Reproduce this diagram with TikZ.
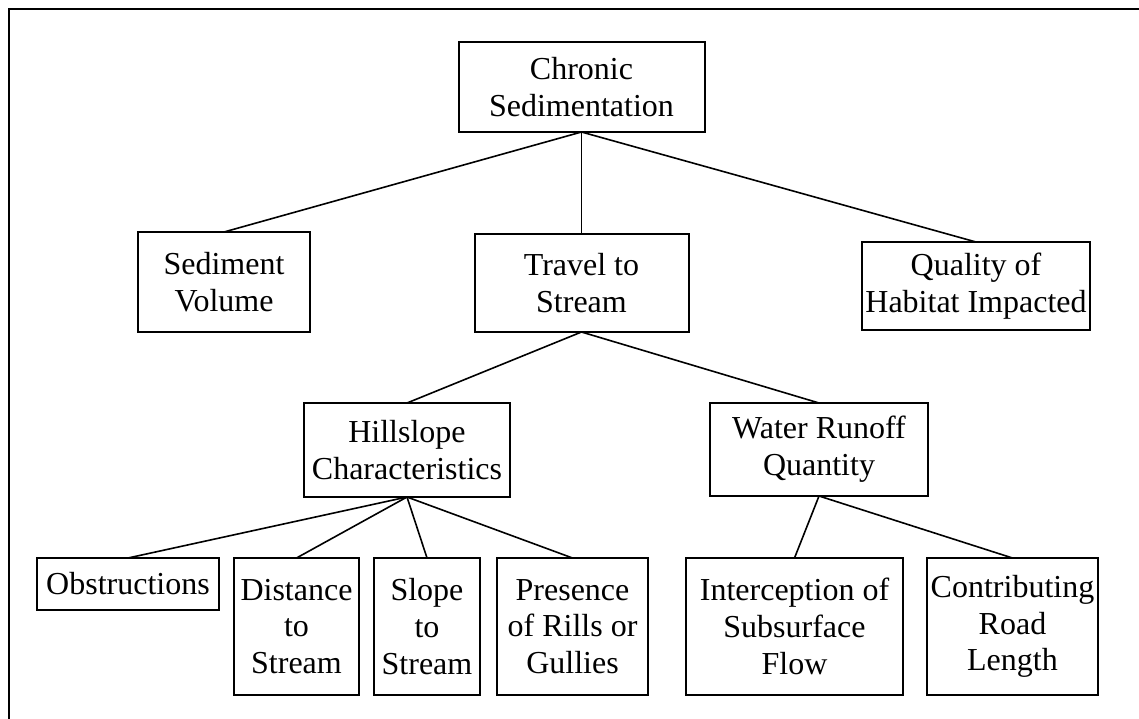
\documentclass[tikz,border=0pt]{standalone}
\usepackage{fontspec}
\setmainfont{Liberation Serif}
\begin{document}
\begin{tikzpicture}[x=1pt,y=-1pt,
  box/.style={draw=black,line width=2pt,inner sep=0pt,outer sep=0pt,align=center,
    font=\fontsize{32}{36.7}\selectfont},
  link/.style={draw=black,line width=1.6pt}]
\useasboundingbox (0,0) rectangle (1139,719);
% page frame (open at right and bottom)
\draw[line width=2.3pt] (9.2,730) -- (9.2,9.2) -- (1150,9.2);

% top level
\node[box,minimum width=246,minimum height=90] (root) at (581.5,87) {Chronic\\Sedimentation};

% second level
\node[box,minimum width=172,minimum height=100] (sed) at (224,282) {Sediment\\Volume};
\node[box,minimum width=214,minimum height=98] (travel) at (581.5,283) {Travel to\\Stream};
\node[box,minimum width=228,minimum height=88] (quality) at (976,286) {Quality of\\Habitat Impacted};

% third level
\node[box,minimum width=206,minimum height=94] (hill) at (407,450) {Hillslope\\Characteristics};
\node[box,minimum width=218,minimum height=93] (water) at (819,449.5) {Water Runoff\\Quantity};

% fourth level
\node[box,minimum width=182,minimum height=52] (obst) at (128,584) {Obstructions};
\node[box,minimum width=125,minimum height=137] (dist) at (296.5,626.5) {Distance\\to\\Stream};
\node[box,minimum width=106,minimum height=137] (slope) at (427,626.5) {Slope\\to\\Stream};
\node[box,minimum width=151,minimum height=137] (rills) at (572.5,626.5) {Presence\\of Rills or\\Gullies};
\node[box,minimum width=217,minimum height=137] (inter) at (794.5,626.5) {Interception of\\Subsurface\\Flow};
\node[box,minimum width=171,minimum height=137] (road) at (1012.5,626.5) {Contributing\\Road\\Length};

% connectors
\draw[link] (root.south) -- (sed.north);
\draw[link] (root.south) -- (travel.north);
\draw[link] (root.south) -- (quality.north);
\draw[link] (travel.south) -- (hill.north);
\draw[link] (travel.south) -- (water.north);
\draw[link] (hill.south) -- (obst.north);
\draw[link] (hill.south) -- (dist.north);
\draw[link] (hill.south) -- (slope.north);
\draw[link] (hill.south) -- (rills.north);
\draw[link] (water.south) -- (inter.north);
\draw[link] (water.south) -- (road.north);
\end{tikzpicture}
\end{document}
